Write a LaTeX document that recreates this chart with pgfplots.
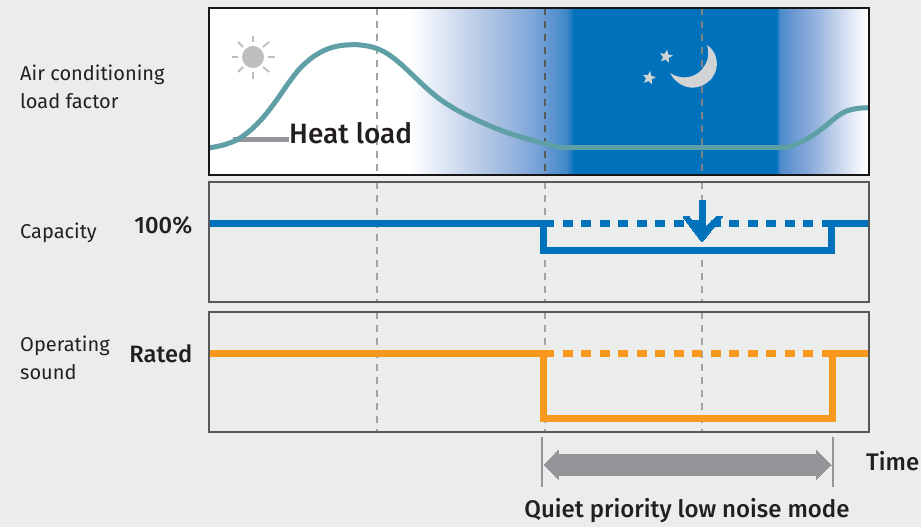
\documentclass[border=0pt]{standalone}
\usepackage{pgfplots}
\pgfplotsset{compat=1.18}
\usepackage{fontspec}
\setmainfont{Fira Sans}
\newfontfamily\medfont{Fira Sans Medium}
\usetikzlibrary{shapes.geometric}
\definecolor{bg}{HTML}{EBEDEC}
\definecolor{nightblue}{HTML}{0072BC}
\definecolor{curve}{HTML}{5F9FA6}
\definecolor{orangeL}{HTML}{F8981D}
\definecolor{greyA}{HTML}{A0A2A5}
\definecolor{greyB}{HTML}{939598}
\definecolor{frameC}{HTML}{58595B}
\definecolor{txt}{HTML}{231F20}
\definecolor{iconG}{HTML}{BCBEC0}
\definecolor{iconL}{HTML}{D1D3D4}
\definecolor{gA}{HTML}{E8EEF8}
\definecolor{gB}{HTML}{C5D3EA}
\definecolor{gC}{HTML}{A3BDE0}
\definecolor{gD}{HTML}{7EA6D9}
\definecolor{gE}{HTML}{3F86C8}
\definecolor{gF}{HTML}{4C8BCA}
\definecolor{gF2}{HTML}{6B99D3}
\definecolor{gG}{HTML}{8BABDB}
\definecolor{gH}{HTML}{AEC4E5}
\definecolor{gI}{HTML}{D2DDF0}
\definecolor{gJ}{HTML}{F3F6FC}
\pgfplotsset{
  panel/.style={scale only axis, width=660pt, xmin=209, xmax=869, y dir=reverse, axis on top,
    anchor=south west, ticks=none, axis line style={draw=frameC, line width=1.5pt}},
  full/.style={scale only axis, at={(0pt,0pt)}, anchor=south west, width=921pt, height=527pt,
    xmin=0, xmax=921, ymin=0, ymax=527, y dir=reverse, hide axis, clip=false},
  guide/.style={line width=2pt, dash pattern=on 7pt off 6pt, forget plot}
}
\newcommand{\fsz}[1]{\fontsize{#1}{#1}\selectfont}
\newcommand{\band}[4]{\fill[left color=#3, right color=#4] (axis cs:#1,8) rectangle (axis cs:#2,175);}
\begin{document}
\begin{tikzpicture}[x=1pt,y=1pt]
\useasboundingbox (0,0) rectangle (921,527);
\fill[bg] (0,0) rectangle (921,527);

% Panel 1
\begin{axis}[panel, at={(209pt,352pt)}, height=167pt, ymin=8, ymax=175,
  axis line style={draw=black!75!frameC, line width=1.8pt}]
\fill[white] (axis cs:209,8) rectangle (axis cs:869,175);
\band{410}{433.5}{white}{gA}
\band{433}{467.5}{gA}{gB}
\band{467}{500.5}{gB}{gC}
\band{500}{533.5}{gC}{gD}
\band{533}{567.5}{gD}{gE}
\band{567}{574}{gE}{nightblue}
\fill[nightblue] (axis cs:573.5,8) rectangle (axis cs:776.5,175);
\band{776}{780.5}{nightblue}{gF}
\band{780}{793.5}{gF}{gF2}
\band{793}{810.5}{gF2}{gG}
\band{810}{827.5}{gG}{gH}
\band{827}{843.5}{gH}{gI}
\band{843}{860.5}{gI}{gJ}
\band{860}{868}{gJ}{white}
\addplot[guide, color=greyA] coordinates {(377,8) (377,175)};
\addplot[guide, color=frameC] coordinates {(545,8) (545,175)};
\addplot[guide, color=greyA!80!black] coordinates {(702,8) (702,175)};
% heat load leader
\addplot[greyB, line width=5pt, forget plot] coordinates {(233,140) (289,140)};
% load curve
\addplot[curve, line width=5pt, smooth] coordinates {
 (209,148) (223.3,145) (236.7,140) (250,130.7) (263.3,117.3) (276.7,100) (288.3,83.3) (300,68.3)
 (313.3,56.7) (326.7,49.3) (340,45.7) (356.7,44.7) (373.3,47.3) (386.7,53.3) (400,63.3) (413.3,75.7)
 (426.7,88.3) (440,99.3) (456.7,110) (476.7,120) (500,130) (520,136.7) (543.3,143.3) (558,147) (567,148)};
\addplot[curve, line width=5pt] coordinates {(567,148) (785,148)};
\addplot[curve, line width=5pt, smooth] coordinates {
 (785,148) (796.7,144) (813.3,135) (826.7,125) (836.7,116.7) (846.7,111) (858.3,108.3) (869,107.7)};
% sun
\fill[iconG] (axis cs:253,57) circle[radius=11pt];
\foreach \a/\b/\c/\d in {253/36/253/42, 253/72/253/79, 232/57/238/57, 268/57/275/57,
  238/42/243/47, 263/67/269/72, 238/72/243/67, 263/47/269/42}{
  \edef\tmp{\noexpand\draw[iconG, line width=1.8pt] (axis cs:\a,\b) -- (axis cs:\c,\d);}\tmp
}
% moon and stars
\fill[iconL] (axis cs:707,45) .. controls (axis cs:718,52) and (axis cs:720,68) .. (axis cs:712,78)
  .. controls (axis cs:700,92) and (axis cs:680,91) .. (axis cs:670,73)
  .. controls (axis cs:682,81) and (axis cs:698,78) .. (axis cs:705,65)
  .. controls (axis cs:709,58) and (axis cs:709,52) .. cycle;
\node[star, star points=5, star point ratio=2.3, fill=iconL, inner sep=0pt, minimum size=14pt, rotate=-10] at (axis cs:666,56.5) {};
\node[star, star points=5, star point ratio=2.3, fill=iconL, inner sep=0pt, minimum size=14pt, rotate=-10] at (axis cs:649,78) {};
\end{axis}

% Panel 2
\begin{axis}[panel, at={(209pt,225pt)}, height=120pt, ymin=182, ymax=302]
\addplot[guide, color=greyA] coordinates {(377,182) (377,302)};
\addplot[guide, color=greyA] coordinates {(545,182) (545,302)};
\addplot[guide, color=greyA] coordinates {(702,182) (702,302)};
\addplot[nightblue, line width=7pt] coordinates {(209,224) (554,224)};
\addplot[nightblue, line width=7pt] coordinates {(822,224) (869,224)};
\addplot[nightblue, line width=7pt, dash pattern=on 10pt off 8.5pt, dash phase=-8.5pt] coordinates {(554,224) (822,224)};
\addplot[nightblue, line width=7pt] coordinates {(543,224) (543,251) (831,251) (831,224)};
\addplot[nightblue, fill=nightblue, line width=0pt] coordinates {
 (699,201) (705,201) (705,227) (716,217) (722,217) (702,242) (683,217) (689,217) (699,227) (699,201)};
\end{axis}

% Panel 3
\begin{axis}[panel, at={(209pt,95pt)}, height=120pt, ymin=312, ymax=432]
\addplot[guide, color=greyA] coordinates {(377,312) (377,432)};
\addplot[guide, color=greyA] coordinates {(545,312) (545,432)};
\addplot[guide, color=greyA] coordinates {(702,312) (702,432)};
\addplot[orangeL, line width=7pt] coordinates {(209,354) (554,354)};
\addplot[orangeL, line width=7pt] coordinates {(822,354) (869,354)};
\addplot[orangeL, line width=7pt, dash pattern=on 10pt off 8.5pt, dash phase=-8.5pt] coordinates {(554,354) (822,354)};
\addplot[orangeL, line width=7pt] coordinates {(543,354) (543,419) (832,419) (832,354)};
\end{axis}

% Annotations
\begin{axis}[full]
\addplot[greyB, line width=2.5pt] coordinates {(542,437) (542,487)};
\addplot[greyB, line width=2.5pt] coordinates {(833,437) (833,487)};
\addplot[greyB, fill=greyB, line width=0pt] coordinates {
 (544,465) (558,450) (558,454) (816,454) (816,450) (831,465) (816,479) (816,475) (558,475) (558,479) (544,465)};
\node[anchor=base west, font=\fsz{28}\medfont, text=txt, inner sep=0pt] at (axis cs:289,143) {Heat load};
\node[anchor=base west, font=\fsz{20}, text=txt, inner sep=0pt] at (axis cs:20,81) {Air conditioning};
\node[anchor=base west, font=\fsz{20}, text=txt, inner sep=0pt] at (axis cs:20,108) {load factor};
\node[anchor=base west, font=\fsz{20}, text=txt, inner sep=0pt] at (axis cs:20,238) {Capacity};
\node[anchor=base west, font=\fsz{20}, text=txt, inner sep=0pt] at (axis cs:20,351) {Operating};
\node[anchor=base west, font=\fsz{20}, text=txt, inner sep=0pt] at (axis cs:20,379) {sound};
\node[anchor=base east, font=\fsz{23.7}\medfont, text=txt, inner sep=0pt] at (axis cs:192.5,233) {100\%};
\node[anchor=base east, font=\fsz{23.7}\medfont, text=txt, inner sep=0pt] at (axis cs:192.5,362) {Rated};
\node[anchor=base west, font=\fsz{24}\medfont, text=txt, inner sep=0pt] at (axis cs:866,470) {Time};
\node[anchor=base, font=\fsz{24}\medfont, text=txt, inner sep=0pt] at (axis cs:687,517) {Quiet priority low noise mode};
\end{axis}
\end{tikzpicture}
\end{document}
